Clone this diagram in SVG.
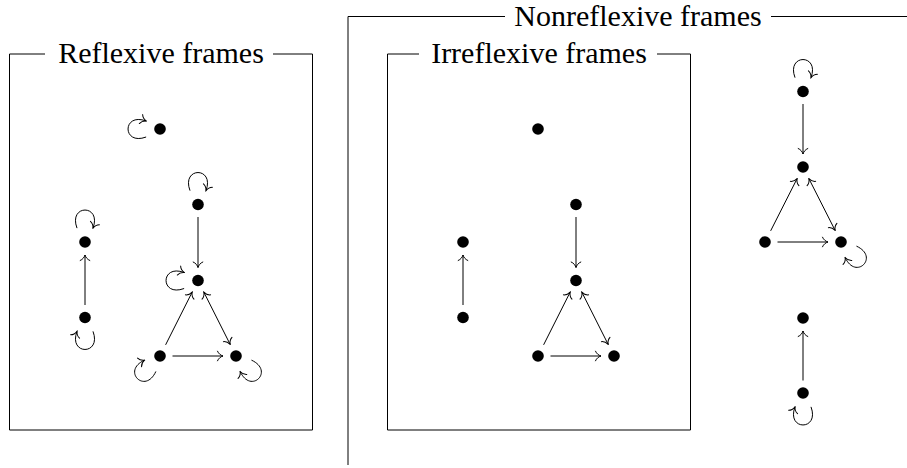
<svg xmlns="http://www.w3.org/2000/svg" width="907" height="468" viewBox="0 0 907 468">
<style>
.frame{fill:none;stroke:#000;stroke-width:1}
.title{font-family:"Liberation Serif","DejaVu Serif",serif;font-size:30px;fill:#000;text-anchor:middle}
.dot{fill:#000}
.e{fill:none;stroke:#000;stroke-width:1;marker-end:url(#ah)}
.d{fill:none;stroke:#000;stroke-width:1;marker-start:url(#ah);marker-end:url(#ah)}
</style>
<defs>
<marker id="ah" viewBox="-7 -6 8 12" markerWidth="8" markerHeight="12" refX="0" refY="0" orient="auto-start-reverse" markerUnits="userSpaceOnUse">
<path d="M-5.5,-4.8 C-4.5,-2.2 -2,-0.6 0,0 C-2,0.6 -4.5,2.2 -5.5,4.8" fill="none" stroke="#000" stroke-width="1" stroke-linecap="round"/>
</marker>
</defs>
<g id="frame-reflexive">
<path class="frame" d="M45,54 H9.5 V430 H312.5 V54 H273"/>
<text class="title" x="161" y="63">Reflexive frames</text>
</g>
<g id="frame-irreflexive">
<path class="frame" d="M419,54 H387.5 V430 H690.5 V54 H657"/>
<text class="title" x="539" y="63">Irreflexive frames</text>
</g>
<g id="frame-nonreflexive">
<path class="frame" d="M505,16.5 H348 V465"/>
<path class="frame" d="M771,16.5 H907"/>
<text class="title" x="638" y="25.5">Nonreflexive frames</text>
</g>
<g id="connectors">
<path class="e" d="M198,217 V267.5"/>
<path class="e" d="M165.62,344.83 L192.16,292.11"/>
<path class="d" d="M203.84,292.11 L230.16,344.39"/>
<path class="e" d="M172.5,356 H223"/>
<path class="e" d="M85,305 V255"/>
<path class="e" d="M146.14,137 C122,146 122,112 146.14,121"/>
<path class="e" d="M184.14,288.5 C160,297.5 160,263.5 184.14,272.5"/>
<path class="e" d="M190,190.64 C181,166.5 215,166.5 206,190.64"/>
<path class="e" d="M77,228.14 C68,204 102,204 93,228.14"/>
<path class="e" d="M93,331.36 C102,355.5 68,355.5 77,331.36"/>
<path class="e" d="M155.86,371.46 C145.15,394.89 121.11,370.85 144.54,360.14"/>
<path class="e" d="M251.46,360.14 C274.89,370.85 250.85,394.89 240.14,371.46"/>
<path class="e" d="M576,217 V267.5"/>
<path class="e" d="M543.62,344.83 L570.16,292.11"/>
<path class="d" d="M581.84,292.11 L608.16,344.39"/>
<path class="e" d="M550.5,356 H601"/>
<path class="e" d="M463,305 V255"/>
<path class="e" d="M803,104 V154"/>
<path class="e" d="M770.65,230.85 L797.12,178.6"/>
<path class="d" d="M808.88,178.6 L835.12,230.4"/>
<path class="e" d="M777.5,242 H828"/>
<path class="e" d="M803,380.5 V331"/>
<path class="e" d="M795,77.64 C786,53.5 820,53.5 811,77.64"/>
<path class="e" d="M856.46,246.14 C879.89,256.85 855.85,280.89 845.14,257.46"/>
<path class="e" d="M811,406.86 C820,431 786,431 795,406.86"/>
</g>
<g id="r1"><circle class="dot" cx="160" cy="129" r="5.8"/></g>
<g id="r2"><circle class="dot" cx="198" cy="204.5" r="5.8"/></g>
<g id="r3"><circle class="dot" cx="198" cy="280.5" r="5.8"/></g>
<g id="r4"><circle class="dot" cx="160" cy="356" r="5.8"/></g>
<g id="r5"><circle class="dot" cx="236" cy="356" r="5.8"/></g>
<g id="r6"><circle class="dot" cx="85" cy="242" r="5.8"/></g>
<g id="r7"><circle class="dot" cx="85" cy="317.5" r="5.8"/></g>
<g id="i1"><circle class="dot" cx="538" cy="129" r="5.8"/></g>
<g id="i2"><circle class="dot" cx="576" cy="204.5" r="5.8"/></g>
<g id="i3"><circle class="dot" cx="576" cy="280.5" r="5.8"/></g>
<g id="i4"><circle class="dot" cx="538" cy="356" r="5.8"/></g>
<g id="i5"><circle class="dot" cx="614" cy="356" r="5.8"/></g>
<g id="i6"><circle class="dot" cx="463" cy="242" r="5.8"/></g>
<g id="i7"><circle class="dot" cx="463" cy="317.5" r="5.8"/></g>
<g id="n1"><circle class="dot" cx="803" cy="91.5" r="5.8"/></g>
<g id="n2"><circle class="dot" cx="803" cy="167" r="5.8"/></g>
<g id="n3"><circle class="dot" cx="765" cy="242" r="5.8"/></g>
<g id="n4"><circle class="dot" cx="841" cy="242" r="5.8"/></g>
<g id="n5"><circle class="dot" cx="803" cy="318" r="5.8"/></g>
<g id="n6"><circle class="dot" cx="803" cy="393" r="5.8"/></g>
</svg>
